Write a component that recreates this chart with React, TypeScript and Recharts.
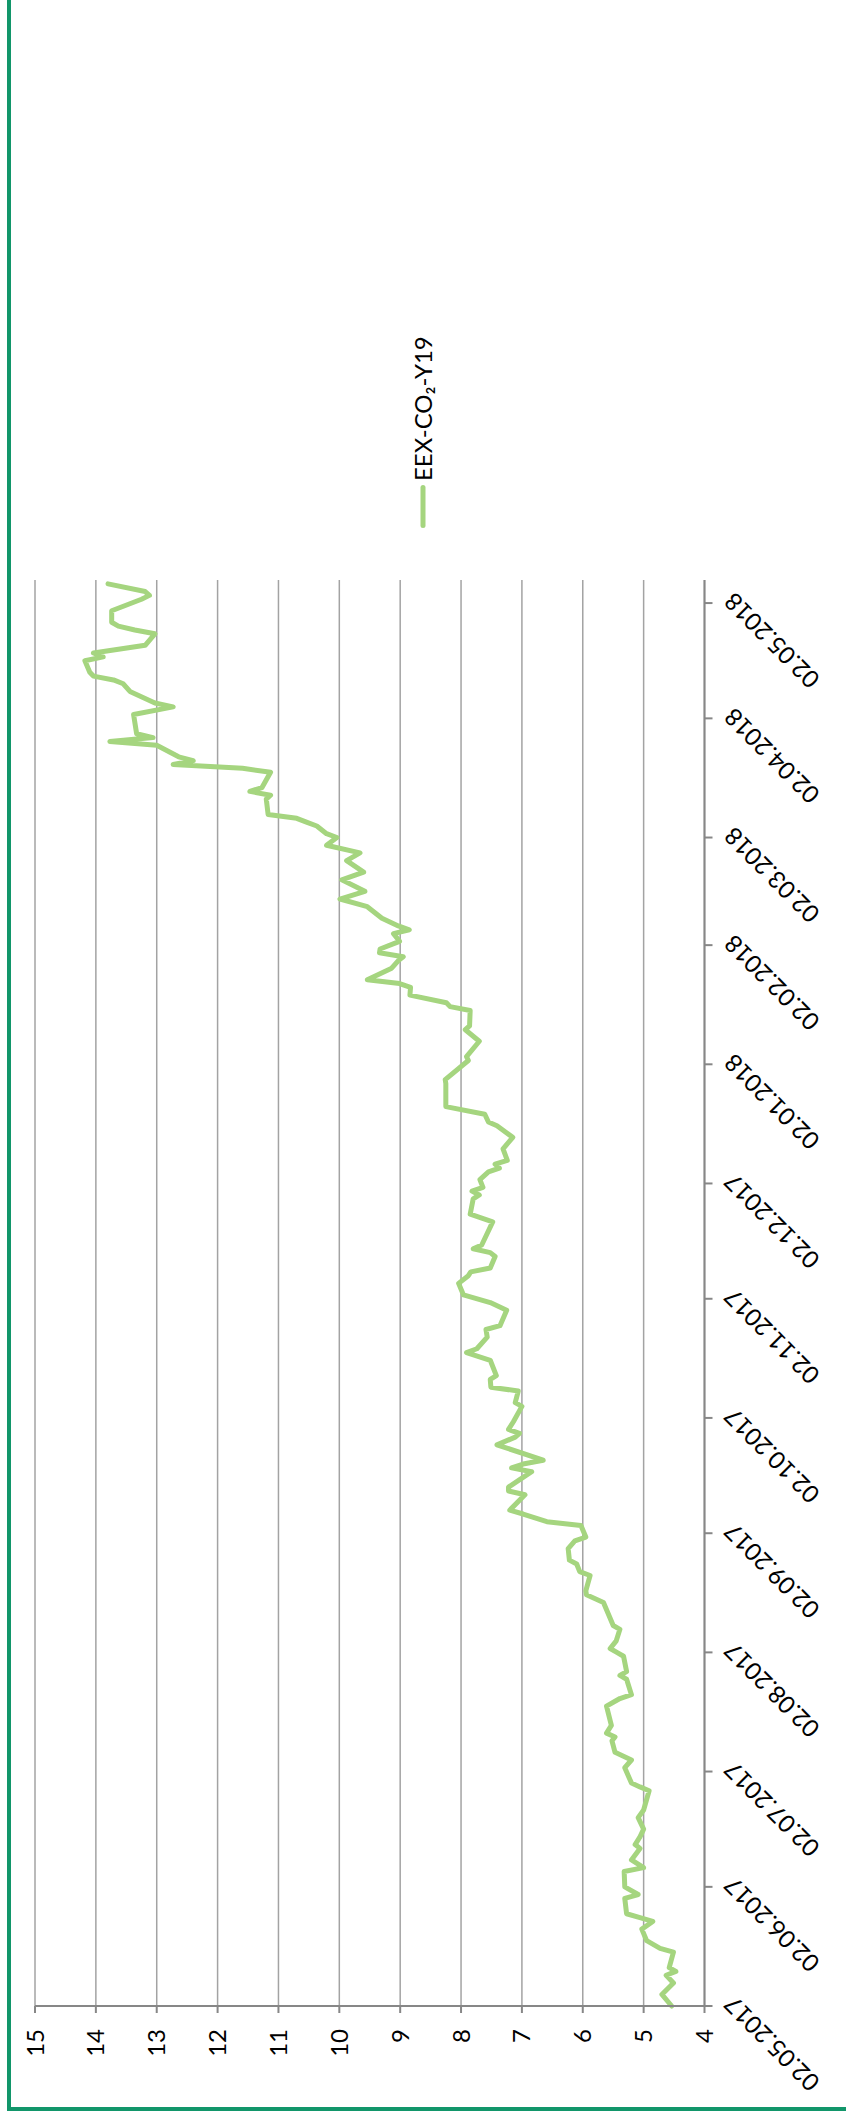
import { CartesianGrid, Legend, Line, LineChart, XAxis, YAxis } from "recharts";

const DATES = [
  "02.05.2017", "05.05.2017", "08.05.2017", "10.05.2017", "11.05.2017", "12.05.2017", "16.05.2017", "17.05.2017",
  "19.05.2017", "22.05.2017", "24.05.2017", "25.05.2017", "26.05.2017", "30.05.2017", "31.05.2017", "02.06.2017",
  "06.06.2017", "07.06.2017", "09.06.2017", "12.06.2017", "13.06.2017", "15.06.2017", "17.06.2017", "20.06.2017",
  "22.06.2017", "27.06.2017", "28.06.2017", "29.06.2017", "03.07.2017", "05.07.2017", "07.07.2017", "10.07.2017",
  "11.07.2017", "12.07.2017", "14.07.2017", "19.07.2017", "21.07.2017", "22.07.2017", "26.07.2017", "27.07.2017",
  "28.07.2017", "01.08.2017", "02.08.2017", "03.08.2017", "05.08.2017", "08.08.2017", "09.08.2017", "15.08.2017",
  "17.08.2017", "18.08.2017", "22.08.2017", "23.08.2017", "25.08.2017", "26.08.2017", "29.08.2017", "31.08.2017",
  "01.09.2017", "04.09.2017", "05.09.2017", "07.09.2017", "08.09.2017", "12.09.2017", "13.09.2017", "14.09.2017",
  "16.09.2017", "18.09.2017", "19.09.2017", "20.09.2017", "21.09.2017", "25.09.2017", "27.09.2017", "28.09.2017",
  "29.09.2017", "01.10.2017", "05.10.2017", "06.10.2017", "09.10.2017", "10.10.2017", "12.10.2017", "13.10.2017",
  "17.10.2017", "19.10.2017", "20.10.2017", "23.10.2017", "25.10.2017", "26.10.2017", "30.10.2017", "01.11.2017",
  "03.11.2017", "06.11.2017", "08.11.2017", "09.11.2017", "10.11.2017", "13.11.2017", "14.11.2017", "15.11.2017",
  "16.11.2017", "22.11.2017", "24.11.2017", "28.11.2017", "29.11.2017", "30.11.2017", "01.12.2017", "03.12.2017",
  "05.12.2017", "06.12.2017", "07.12.2017", "08.12.2017", "11.12.2017", "14.12.2017", "17.12.2017", "18.12.2017",
  "20.12.2017", "22.12.2017", "28.12.2017", "29.12.2017", "03.01.2018", "04.01.2018", "08.01.2018", "11.01.2018",
  "12.01.2018", "16.01.2018", "17.01.2018", "18.01.2018", "20.01.2018", "22.01.2018", "23.01.2018", "24.01.2018",
  "27.01.2018", "29.01.2018", "30.01.2018", "31.01.2018", "01.02.2018", "03.02.2018", "05.02.2018", "06.02.2018",
  "07.02.2018", "09.02.2018", "12.02.2018", "14.02.2018", "16.02.2018", "19.02.2018", "21.02.2018", "24.02.2018",
  "26.02.2018", "28.02.2018", "02.03.2018", "03.03.2018", "05.03.2018", "06.03.2018", "07.03.2018", "08.03.2018",
  "12.03.2018", "13.03.2018", "14.03.2018", "15.03.2018", "19.03.2018", "20.03.2018", "21.03.2018", "22.03.2018",
  "23.03.2018", "26.03.2018", "27.03.2018", "28.03.2018", "29.03.2018", "03.04.2018", "05.04.2018", "06.04.2018",
  "09.04.2018", "11.04.2018", "12.04.2018", "13.04.2018", "14.04.2018", "17.04.2018", "18.04.2018", "19.04.2018",
  "21.04.2018", "24.04.2018", "25.04.2018", "26.04.2018", "27.04.2018", "30.04.2018", "03.05.2018", "04.05.2018",
  "05.05.2018", "07.05.2018",
];

const PRICES = [
  4.54, 4.7, 4.51, 4.63, 4.47, 4.58, 4.51, 4.73,
  4.95, 5.03, 4.85, 5.06, 5.28, 5.31, 5.09, 5.31,
  5.32, 5.0, 5.2, 5.06, 5.14, 5.06, 5.0, 5.09,
  5.0, 4.91, 5.06, 5.2, 5.31, 5.2, 5.47, 5.52,
  5.47, 5.61, 5.53, 5.61, 5.39, 5.2, 5.28, 5.39,
  5.28, 5.33, 5.44, 5.55, 5.45, 5.39, 5.5, 5.66,
  5.94, 5.95, 5.88, 6.05, 6.1, 6.22, 6.24, 6.13,
  5.95, 6.03, 6.59, 6.98, 7.2, 6.95, 7.22, 7.22,
  7.03, 6.84, 7.17, 6.98, 6.65, 7.41, 7.11, 7.04,
  7.22, 7.14, 7.0, 7.11, 7.06, 7.51, 7.52, 7.42,
  7.52, 7.91, 7.74, 7.57, 7.59, 7.36, 7.25, 7.52,
  7.96, 8.04, 7.88, 7.84, 7.52, 7.44, 7.52, 7.8,
  7.66, 7.48, 7.85, 7.8, 7.7, 7.82, 7.64, 7.69,
  7.55, 7.37, 7.44, 7.24, 7.31, 7.15, 7.41, 7.55,
  7.61, 8.25, 8.25, 8.26, 7.88, 7.91, 7.7, 7.93,
  7.86, 7.85, 8.18, 8.24, 8.84, 8.83, 9.01, 9.54,
  9.14, 9.03, 8.95, 9.34, 9.33, 9.01, 9.11, 8.85,
  9.03, 9.3, 9.54, 9.99, 9.58, 9.96, 9.6, 9.88,
  9.66, 10.21, 10.04, 10.21, 10.37, 10.54, 10.7, 11.17,
  11.2, 11.13, 11.47, 11.27, 11.13, 11.59, 12.73, 12.4,
  12.64, 13.0, 13.77, 13.06, 13.33, 13.38, 12.73, 13.03,
  13.44, 13.55, 13.71, 14.04, 14.1, 14.18, 13.88, 14.04,
  13.19, 13.03, 13.36, 13.63, 13.74, 13.74, 13.25, 13.12,
  13.19, 13.8,
];

const DATE_TICKS = [
  "02.05.2017", "02.06.2017", "02.07.2017", "02.08.2017", "02.09.2017", "02.10.2017", "02.11.2017",
  "02.12.2017", "02.01.2018", "02.02.2018", "02.03.2018", "02.04.2018", "02.05.2018",
];
const DATE_RANGE = ["02.05.2017", "08.05.2018"];
const PRICE_TICKS = [4, 5, 6, 7, 8, 9, 10, 11, 12, 13, 14, 15];
const SERIES_NAME = "EEX-CO₂-Y19";

const LINE_COLOR = "#a5d57f";
const FRAME_COLOR = "#12966a";
const GRID_COLOR = "#a3a3a3";
const AXIS_COLOR = "#878787";
const FONT = "Lato, 'Noto Sans', sans-serif";

// the reference is an Excel chart turned on its side, so the chart is drawn
// in landscape and rotated a quarter turn counter-clockwise
const CHART_W = 2121;
const CHART_H = 846;

const toTime = (s: string) => {
  const [d, m, y] = s.split(".").map(Number);
  return Date.UTC(y, m - 1, d);
};

const pad = (n: number) => String(n).padStart(2, "0");
const formatDate = (t: number) => {
  const dt = new Date(t);
  return `${pad(dt.getUTCDate())}.${pad(dt.getUTCMonth() + 1)}.${dt.getUTCFullYear()}`;
};

const data = DATES.map((d, i) => ({ t: toTime(d), price: PRICES[i] }));
const dateTicks = DATE_TICKS.map(toTime);

function LegendContent() {
  return (
    <div style={{ display: "flex", alignItems: "center", fontFamily: FONT, fontSize: 24, color: "#000", whiteSpace: "nowrap" }}>
      <svg width={43} height={10}>
        <line x1={2.5} y1={5} x2={40.5} y2={5} stroke={LINE_COLOR} strokeWidth={5} strokeLinecap="round" />
      </svg>
      <span style={{ marginLeft: 4 }}>{SERIES_NAME}</span>
    </div>
  );
}

export default function App() {
  return (
    <div style={{ position: "absolute", left: 0, top: 0, width: 846, height: 2121, overflow: "hidden", background: "#fff" }}>
      <div
        style={{
          position: "absolute",
          left: 7,
          top: -20,
          width: 900,
          height: 2131,
          boxSizing: "border-box",
          borderLeft: `4px solid ${FRAME_COLOR}`,
          borderBottom: `4px solid ${FRAME_COLOR}`,
        }}
      />
      <div
        style={{
          position: "absolute",
          left: 0,
          top: 0,
          width: CHART_W,
          height: CHART_H,
          transformOrigin: "0 0",
          transform: `translateY(${CHART_W}px) rotate(-90deg)`,
        }}
      >
        <LineChart width={CHART_W} height={CHART_H} data={data} margin={{ top: 35, right: 580, bottom: 41.5, left: 15 }}>
          <CartesianGrid vertical={false} stroke={GRID_COLOR} strokeWidth={1.5} />
          <XAxis
            type="number"
            dataKey="t"
            domain={DATE_RANGE.map(toTime)}
            ticks={dateTicks}
            interval={0}
            tickFormatter={formatDate}
            height={100}
            tickSize={8}
            tickMargin={10}
            axisLine={{ stroke: AXIS_COLOR, strokeWidth: 2 }}
            tickLine={{ stroke: AXIS_COLOR, strokeWidth: 2 }}
            tick={{ angle: -45, textAnchor: "end", fill: "#000", fontSize: 24, fontFamily: FONT }}
          />
          <YAxis
            type="number"
            domain={[4, 15]}
            ticks={PRICE_TICKS}
            interval={0}
            width={100}
            tickSize={7}
            tickMargin={16}
            axisLine={{ stroke: AXIS_COLOR, strokeWidth: 2 }}
            tickLine={{ stroke: AXIS_COLOR, strokeWidth: 2 }}
            tick={{ fill: "#000", fontSize: 24, fontFamily: FONT }}
          />
          <Legend
            layout="horizontal"
            align="center"
            verticalAlign="middle"
            content={<LegendContent />}
            wrapperStyle={{ left: 1593, top: 408, width: 260, height: 30 }}
          />
          <Line
            type="linear"
            dataKey="price"
            name={SERIES_NAME}
            stroke={LINE_COLOR}
            strokeWidth={5}
            strokeLinejoin="round"
            strokeLinecap="round"
            dot={false}
            activeDot={false}
            isAnimationActive={false}
          />
        </LineChart>
      </div>
    </div>
  );
}
